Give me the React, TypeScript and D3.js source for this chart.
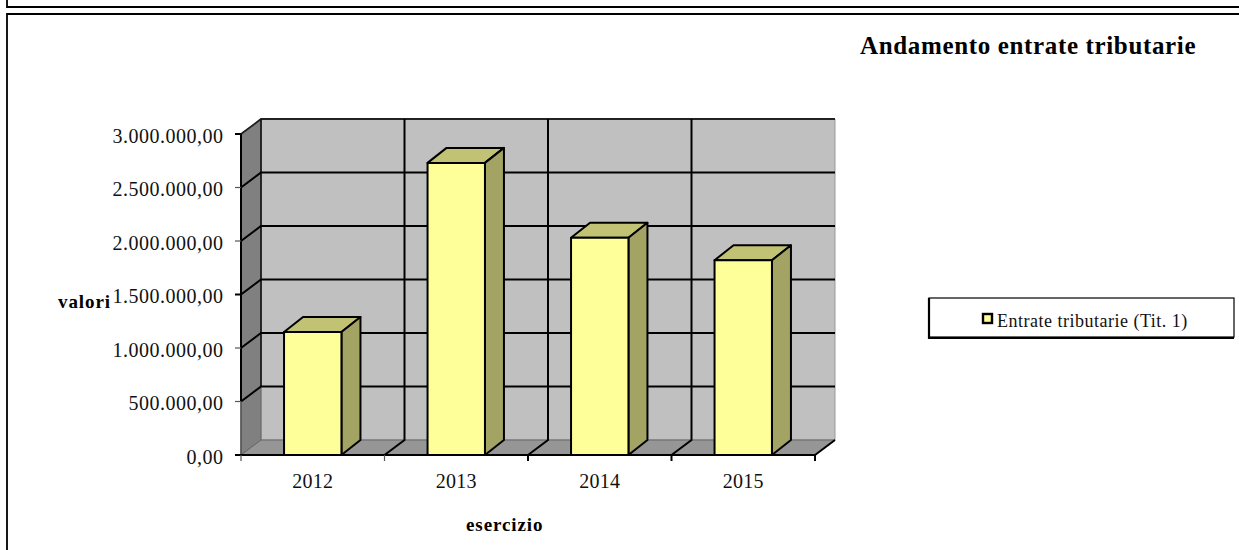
import React from 'react';
import * as d3 from 'd3';

const years = ['2012', '2013', '2014', '2015'];
const entrate = [1150000, 2730000, 2030000, 1820000];
const yTicks = [0, 500000, 1000000, 1500000, 2000000, 2500000, 3000000];
const tickLabels = ['0,00', '500.000,00', '1.000.000,00', '1.500.000,00', '2.000.000,00', '2.500.000,00', '3.000.000,00'];

const font = '"Liberation Serif", serif';
const left = 241, right = 815, bottom = 455, top = 134;
const depthX = 20, depthY = -15;
const barDepthX = 19;

// the source image loses some ticks to grey when it was scaled down
const darkY = [0, 1500000, 3000000];
const darkX = [2, 3, 4];

export default function App() {
  const y = d3.scaleLinear().domain([0, 3000000]).range([bottom, top]);
  const x = d3.scaleBand().domain(years).range([left, right]).paddingInner(0.6).paddingOuter(0.3);
  const bandEdges = d3.range(0, years.length + 1).map(i => left + (i * (right - left)) / years.length);
  const poly = (pts: number[][]) => (d3.line()(pts as [number, number][]) || '') + 'Z';
  const split = y(500000);

  return (
    <svg width={1239} height={550} style={{ position: 'absolute', left: 0, top: 0 }}>
      <rect width={1239} height={550} fill="#fff" />
      {/* frames */}
      <path d="M7,0V7H1239" fill="none" stroke="#000" strokeWidth={1.8} />
      <path d="M7,550V14H1239" fill="none" stroke="#000" strokeWidth={1.8} />

      <text x={860} y={54} fontFamily={font} fontSize={25} fontWeight="bold" letterSpacing={0.65}>Andamento entrate tributarie</text>

      {/* walls */}
      <path d={poly([[left + depthX, top + depthY], [right + depthX, top + depthY], [right + depthX, bottom + depthY], [left + depthX, bottom + depthY]])} fill="#c0c0c0" stroke="#999" strokeWidth={1} />
      <path d={poly([[left, top], [left + depthX, top + depthY], [left + depthX, bottom + depthY], [left, bottom]])} fill="#808080" stroke="#666" strokeWidth={1} />
      <path d={poly([[left, bottom], [left + depthX, bottom + depthY], [right + depthX, bottom + depthY], [right, bottom]])} fill="#969696" stroke="#666" strokeWidth={1} />
      <path d={`M${left},${top}L${left + depthX},${top + depthY}H${right + depthX}`} fill="none" stroke="#222" strokeWidth={1.8} />
      <path d={`M${left + depthX},${top + depthY}V${split + depthY}`} fill="none" stroke="#111" strokeWidth={1.6} />

      {/* gridlines */}
      {yTicks.slice(1, -1).map(t => (
        <path key={t} d={`M${left},${y(t)}L${left + depthX},${y(t) + depthY}H${right + depthX}`} fill="none" stroke="#000" strokeWidth={2} />
      ))}
      {bandEdges.slice(1, -1).map(e => (
        <path key={e} d={`M${e},${bottom}L${e + depthX},${bottom + depthY}V${top + depthY}`} fill="none" stroke="#000" strokeWidth={2} />
      ))}
      <path d={`M${right},${bottom}L${right + depthX},${bottom + depthY}`} fill="none" stroke="#000" strokeWidth={2} />

      {/* axes */}
      <path d={`M${left},${top}V${split}`} fill="none" stroke="#000" strokeWidth={2} />
      <path d={`M${left},${split}V${bottom}`} fill="none" stroke="#555" strokeWidth={1.5} />
      <path d={`M${left},${bottom}H${right}`} fill="none" stroke="#000" strokeWidth={2} />
      {yTicks.map((t, i) => (
        <g key={t}>
          <line x1={left - 6} x2={left} y1={y(t)} y2={y(t)} stroke={darkY.includes(t) ? '#000' : '#555'} strokeWidth={darkY.includes(t) ? 2 : 1.2} />
          <text x={223.5} y={y(t) + 8.5} textAnchor="end" fontFamily={font} fontSize={20} letterSpacing={0.5} fill="#111">{tickLabels[i]}</text>
        </g>
      ))}
      {bandEdges.map((e, i) => (
        <line key={e} x1={e} x2={e} y1={bottom} y2={bottom + 6} stroke={darkX.includes(i) ? '#000' : '#555'} strokeWidth={darkX.includes(i) ? 2 : 1.2} />
      ))}

      {/* bars */}
      {years.map((yr, i) => {
        const x0 = x(yr)!, x1 = x0 + x.bandwidth(), yt = y(entrate[i]);
        return (
          <g key={yr} stroke="#000" strokeWidth={2} strokeLinejoin="round">
            <path d={poly([[x0, yt], [x0 + barDepthX, yt + depthY], [x1 + barDepthX, yt + depthY], [x1, yt]])} fill="#c2c274" />
            <path d={poly([[x1, yt], [x1 + barDepthX, yt + depthY], [x1 + barDepthX, bottom + depthY], [x1, bottom]])} fill="#a3a364" />
            <rect x={x0} y={yt} width={x.bandwidth()} height={bottom - yt} fill="#ffff99" />
            <text x={x0 + x.bandwidth() / 2} y={488} textAnchor="middle" fontFamily={font} fontSize={20} letterSpacing={0.3} stroke="none" fill="#111">{yr}</text>
          </g>
        );
      })}

      <text x={466} y={531} fontFamily={font} fontSize={19} fontWeight="bold" letterSpacing={0.9}>esercizio</text>
      <text x={58} y={308} fontFamily={font} fontSize={19} fontWeight="bold" letterSpacing={0.9}>valori</text>

      {/* legend */}
      <rect x={929} y={298} width={305} height={39} fill="#fff" stroke="#000" strokeWidth={1.2} />
      <path d="M929,298V338H1234" fill="none" stroke="#000" strokeWidth={2.2} />
      <rect x={983} y={314} width={9} height={9} fill="#ffff99" stroke="#000" strokeWidth={2.4} />
      <text x={997} y={327} fontFamily={font} fontSize={18} letterSpacing={0.5} fill="#111">Entrate tributarie (Tit. 1)</text>
    </svg>
  );
}
